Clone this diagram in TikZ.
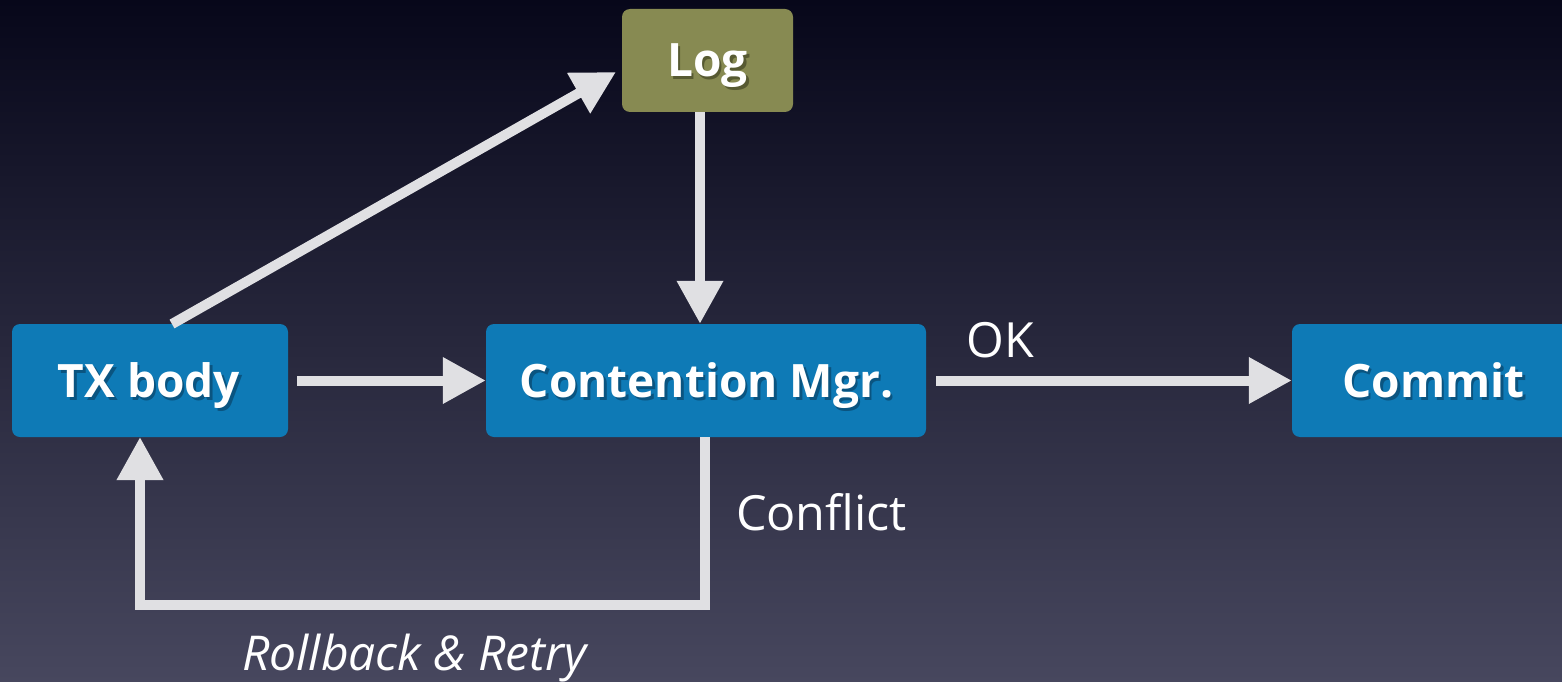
\documentclass[tikz,border=0pt]{standalone}
\usepackage{fontspec}
\setmainfont{Open Sans}
\usetikzlibrary{arrows.meta}
\definecolor{bgtop}{HTML}{07071A}
\definecolor{bgbot}{HTML}{47475E}
\definecolor{boxblue}{HTML}{0E7AB6}
\definecolor{boxolive}{HTML}{878A52}
\definecolor{shblue}{HTML}{0A5480}
\definecolor{sholive}{HTML}{575A32}
\definecolor{flow}{HTML}{E0E0E3}
% label with a soft drop shadow underneath
\newcommand\shtext[2]{\makebox[0pt][l]{\hspace{2.5pt}\raisebox{-3pt}{\textcolor{#1}{#2}}}#2}
\tikzset{
  stage/.style={rounded corners=8pt, inner sep=0pt, minimum height=113pt},
  stagetext/.style={text=white, inner sep=0pt, anchor=base,
    font=\fontsize{46}{54}\selectfont\bfseries},
  flowline/.style={draw=flow, line width=10pt,
    -{Triangle[length=43pt,width=44pt]}},
  tag/.style={text=white, font=\fontsize{48.5}{56}\selectfont, inner sep=0pt,
    anchor=base}
}
\begin{document}
\begin{tikzpicture}[x=1pt,y=-1pt]
  \useasboundingbox (0,0) rectangle (1562,682);
  \shade[top color=bgtop, bottom color=bgbot] (0,0) rectangle (1562,682);

  % boxes
  \node[stage, fill=boxolive, minimum width=171pt, minimum height=103pt]
    (log) at (707.5,60.5) {};
  \node[stage, fill=boxblue, minimum width=276pt] (tx) at (150,380.5) {};
  \node[stage, fill=boxblue, minimum width=440pt] (cm) at (706,380.5) {};
  \node[stage, fill=boxblue, minimum width=300pt] (commit) at (1442,380.5) {};

  % box captions
  \node[stagetext] (logtext) at (707.5,76.5) {\shtext{sholive}{Log}};
  \node[stagetext] (txtext) at (149,397) {\shtext{shblue}{TX body}};
  \node[stagetext] (cmtext) at (706.5,397) {\shtext{shblue}{Contention Mgr.}};
  \node[stagetext] (committext) at (1433.5,397) {\shtext{shblue}{Commit}};

  % connectors
  \coordinate (txtop) at (172,324);
  \coordinate (login) at (616,72);
  \draw[flowline] (txtop) -- (login);
  \draw[flowline] (log.south -| 700,0) -- (cm.north -| 700,0);
  \draw[flowline] ([xshift=9pt]tx.east) -- (cm.west);
  \draw[flowline] ([xshift=10pt]cm.east) -- (commit.west);
  \coordinate (cmout) at (705,437);
  \coordinate (txin) at (140,437);
  \draw[flowline, line join=miter] (cmout) -- (705,605) -- (140,605) -- (txin);

  % edge labels
  \node[tag] (ok) at (1000.5,357) {OK};
  \node[tag] (conflict) at (821.5,530) {Conflict};
  \node[tag, font=\fontsize{48}{56}\selectfont\itshape]
    (retry) at (414.5,670) {Rollback \& Retry};
\end{tikzpicture}
\end{document}
